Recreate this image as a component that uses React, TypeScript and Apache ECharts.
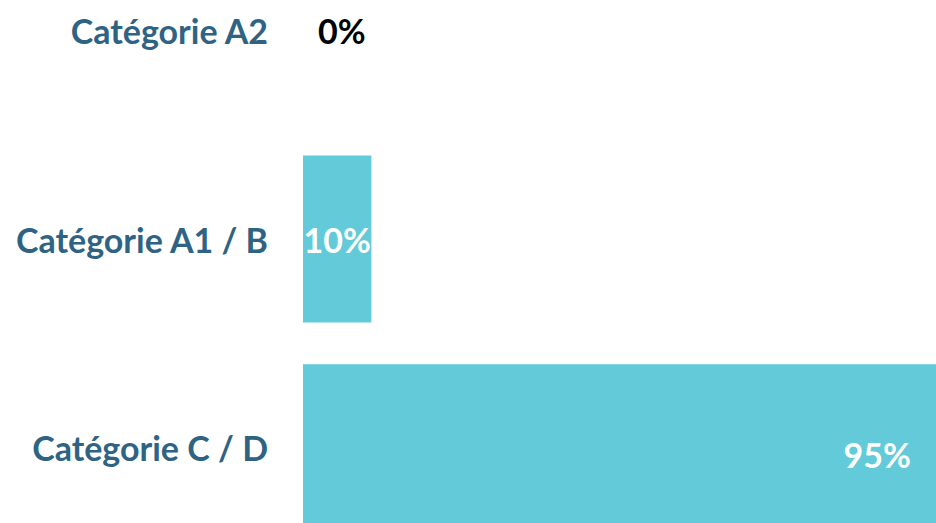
import React, { useEffect, useRef } from "react";
import * as echarts from "echarts";

const categories = ["Catégorie A2", "Catégorie A1 / B", "Catégorie C / D"];
const values = [0, 10, 95];

const FONT = "Lato, 'Open Sans', sans-serif";

export default function App() {
  const ref = useRef<HTMLDivElement>(null);
  useEffect(() => {
    if (!ref.current) return;
    const chart = echarts.init(ref.current, undefined, { renderer: "svg" });
    const labelFor = (v: number, i: number) => {
      if (v === 0) return { position: "right", color: "#000000", distance: 15 };
      if (i === values.length - 1)
        return { position: "insideRight", color: "#ffffff", distance: 42, offset: [0, 7] };
      return { position: "inside", color: "#ffffff" };
    };
    chart.setOption({
      animation: false,
      grid: {
        left: 303,
        right: -51,
        top: -74,
        bottom: -29,
        containLabel: false,
        outerBoundsMode: "none",
      },
      xAxis: { type: "value", min: 0, max: 100, show: false, splitLine: { show: false } },
      yAxis: {
        type: "category",
        data: categories,
        inverse: true,
        axisLine: { show: false },
        axisTick: { show: false },
        axisLabel: {
          margin: 35,
          color: "#2E6384",
          fontFamily: FONT,
          fontWeight: "bold",
          fontSize: 34,
        },
      },
      series: [
        {
          type: "bar",
          barCategoryGap: "20%",
          itemStyle: { color: "#62CAD8" },
          label: {
            show: true,
            formatter: "{c}%",
            fontFamily: FONT,
            fontWeight: "bold",
            fontSize: 34,
          },
          data: values.map((v, i) => ({ value: v, label: labelFor(v, i) })),
        },
      ],
    });
    return () => chart.dispose();
  }, []);
  return <div ref={ref} style={{ width: 936, height: 523, position: "absolute", left: 0, top: 0 }} />;
}
